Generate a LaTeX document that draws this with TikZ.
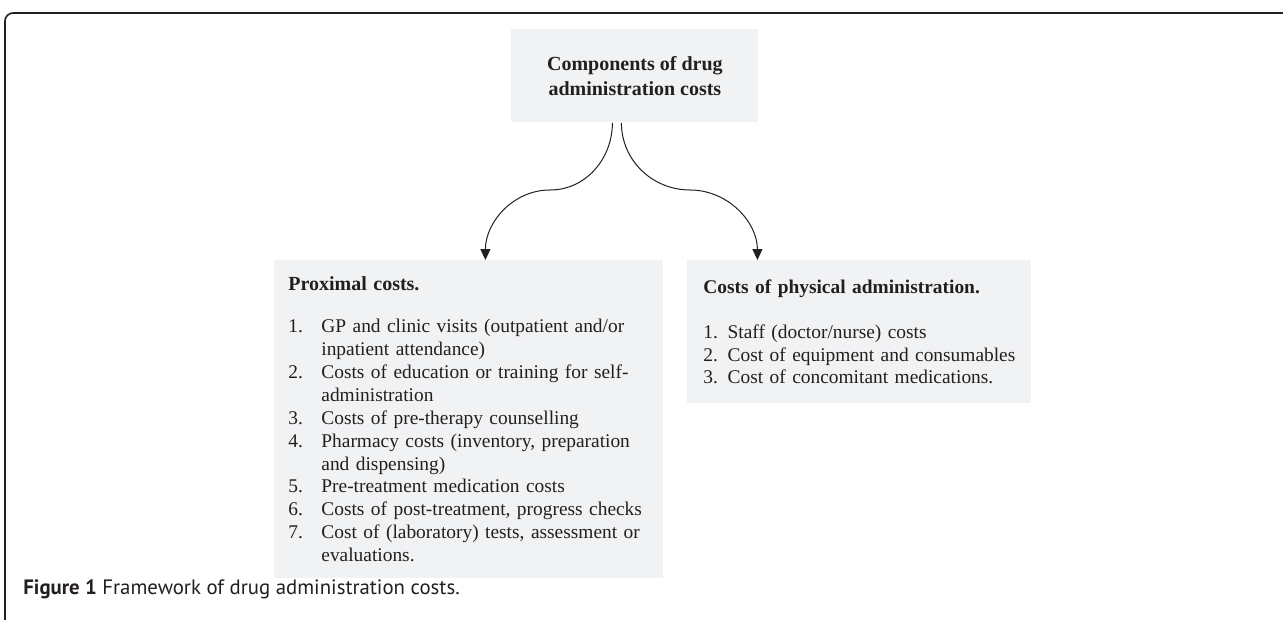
\documentclass[tikz,border=0pt]{standalone}
\usepackage{fontspec}
\setmainfont{Liberation Serif}
\newfontfamily\capfont{PT Sans}
\usetikzlibrary{arrows.meta,positioning}
\definecolor{boxgray}{RGB}{241,242,244}
\definecolor{ink}{RGB}{35,31,32}
\tikzset{
  costbox/.style={fill=boxgray, text=ink, align=left, anchor=north west, inner ysep=0pt},
  curvearrow/.style={-{Triangle[width=5pt,length=5.5pt]}, line width=0.5pt, draw=ink},
}
\newcommand{\itemno}[2]{\makebox[16.5pt][l]{#1}\mbox{#2}}
\begin{document}
\begin{tikzpicture}[x=0.5pt,y=0.5pt]
\useasboundingbox (0,0) rectangle (1283,-620);
\draw[ink, line width=0.8pt, rounded corners=4pt] (5,-620) -- (5,-13) -- (1283,-13);

\node[costbox, align=center, minimum width=123.5pt, minimum height=46.5pt, inner xsep=0pt,
      font=\fontsize{10}{12.5}\selectfont\bfseries] (comp) at (511,-29)
      {Components of drug\\administration costs};

\node[costbox, text width=180.5pt, inner xsep=7pt, minimum height=159pt,
      font=\fontsize{9.7}{11.45}\selectfont] (prox) at (274,-260)
      {\textbf{\fontsize{10}{11.45}\selectfont Proximal costs.}\\[9.5pt]
       \itemno{1.}{GP and clinic visits (outpatient and/or}\\
       \itemno{}{inpatient attendance)}\\
       \itemno{2.}{Costs of education or training for self-}\\
       \itemno{}{administration}\\
       \itemno{3.}{Costs of pre-therapy counselling}\\
       \itemno{4.}{Pharmacy costs (inventory, preparation}\\
       \itemno{}{and dispensing)}\\
       \itemno{5.}{Pre-treatment medication costs}\\
       \itemno{6.}{Costs of post-treatment, progress checks}\\
       \itemno{7.}{Cost of (laboratory) tests, assessment or}\\
       \itemno{}{evaluations.}};

\node[costbox, text width=156pt, inner xsep=8pt, minimum height=71.5pt,
      font=\fontsize{9.7}{11.45}\selectfont] (phys) at (687,-260)
      {\textbf{\fontsize{9.7}{11.45}\selectfont Costs of physical administration.}\\[11pt]
       \mbox{1. Staff (doctor/nurse) costs}\\
       \mbox{2. Cost of equipment and consumables}\\
       \mbox{3. Cost of concomitant medications.}};

\coordinate (lbend) at (550,-190);
\coordinate (rbend) at (690,-190);
\draw[curvearrow] ([xshift=-11.25pt]comp.south) to[out=-90,in=0] (lbend)
      to[out=180,in=90] ([xshift=8.25pt]prox.north);
\draw[curvearrow] ([xshift=-6.75pt]comp.south) to[out=-90,in=180] (rbend)
      to[out=0,in=90] ([xshift=-51pt]phys.north);

\node[anchor=base west, inner sep=0pt, text=ink, font=\capfont\fontsize{10.4}{12}\selectfont] (caption)
      at (23,-594) {\textbf{Figure 1} Framework of drug administration costs.};
\end{tikzpicture}
\end{document}
